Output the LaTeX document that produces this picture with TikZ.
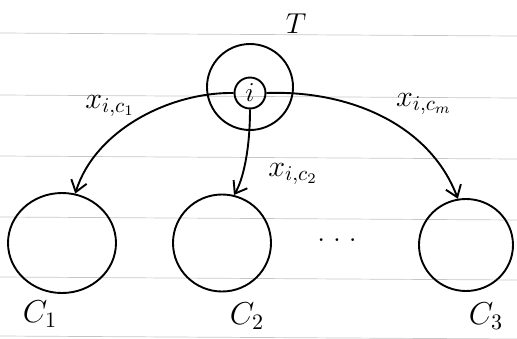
\documentclass[tikz,border=0pt]{standalone}
\usepackage{graphicx}
\usetikzlibrary{arrows.meta,shapes.geometric}
\newcommand{\bigtxt}[2]{\scalebox{#1}{#2}}
\begin{document}
\begin{tikzpicture}[x=1pt,y=-1pt,
  pen/.style={line width=1.9pt,black},
  arr/.style={pen,-{Straight Barb[length=11pt,width=16pt,line width=1.9pt]}},
  ruled/.style={gray!45,line width=0.7pt},
  cnode/.style={ellipse,draw,pen,inner sep=0pt},
  lbl/.style={font=\Large,inner sep=1pt},
  elbl/.style={font=\Large,inner sep=1pt}]
\useasboundingbox (0,0) rectangle (517,338);
\foreach \yy in {33,95,156,217,277,336} \draw[ruled] (0,\yy) -- (517,\yy+3);
% top node
\node[circle,draw,pen,minimum size=86pt,inner sep=0pt] (T) at (250,87) {};
\node[circle,draw,pen,minimum size=31pt,inner sep=0pt,font=\Large] (i) at (250,93) {\bigtxt{1.9}{$i$}};
\node[lbl] (Tl) at (296,24) {\bigtxt{2}{$T$}};
% bottom nodes
\node[cnode,minimum width=108pt,minimum height=100pt] (c1) at (62,243) {};
\node[cnode,minimum width=98pt,minimum height=97pt] (c2) at (222,243) {};
\node[cnode,minimum width=94pt,minimum height=92pt] (c3) at (466,245) {};
\node[elbl] (dots) at (337,240) {\bigtxt{2}{$.\;.\;.$}};
\node[lbl] (l1) at (40,314) {\bigtxt{2.2}{$C_1$}};
\node[lbl] (l2) at (247,316) {\bigtxt{2.2}{$C_2$}};
\node[lbl] (l3) at (486,316) {\bigtxt{2.2}{$C_3$}};
% edges
\draw[arr] (i.west) .. controls (170,92) and (95,130) .. (c1.75);
\draw[arr] (i.south) .. controls (250,150) and (243,180) .. (c2.76);
\draw[arr] (i.east) .. controls (350,90) and (430,125) .. (c3.100);
% edge labels
\node[elbl] (e1) at (110,106) {\bigtxt{2.1}{$x_{i,c_1}$}};
\node[elbl] (e2) at (293,174) {\bigtxt{2.1}{$x_{i,c_2}$}};
\node[elbl] (e3) at (424,104) {\bigtxt{2.1}{$x_{i,c_m}$}};
\end{tikzpicture}
\end{document}
